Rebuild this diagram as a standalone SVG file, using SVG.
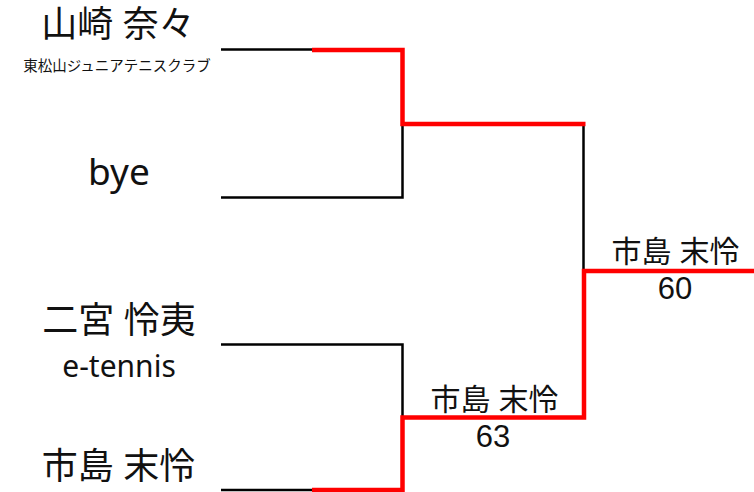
<svg xmlns="http://www.w3.org/2000/svg" width="754" height="492" viewBox="0 0 754 492">
<style>
text{font-family:"Noto Sans","Noto Sans CJK JP",sans-serif;fill:#111;text-anchor:middle}
.big{font-size:36px}
.club{font-size:14.5px}
.lbl{font-size:30px}
.num{font-family:"Liberation Sans",sans-serif;font-size:31px}
.blk{fill:none;stroke:#000;stroke-width:2.5}
.red{fill:none;stroke:#ff0000;stroke-width:4.5}
</style>
<rect width="754" height="492" fill="#fff"/>
<g id="connectors">
<path class="blk" d="M221 49.5H314"/>
<path class="blk" d="M221 197.5H402.5V124"/>
<path class="blk" d="M221 344.5H402.5V417"/>
<path class="blk" d="M221 490H314"/>
<path class="blk" d="M583.5 124V271"/>
<path class="red" d="M312 50H402.5V124H585.5"/>
<path class="red" d="M312 490H402.5V417.5H584V271H754"/>
</g>
<g id="p1"><text class="big" x="118" y="37">山崎 奈々</text><text class="club" x="117" y="71">東松山ジュニアテニスクラブ</text></g>
<g id="p2"><text x="119" y="185" style="font-size:37px">bye</text></g>
<g id="p3"><text class="big" x="119" y="333">二宮 怜夷</text><text x="119" y="377" style="font-size:30px">e-tennis</text></g>
<g id="p4"><text class="big" x="118.5" y="479">市島 末怜</text></g>
<g id="m1"><text class="lbl" x="494.5" y="410">市島 末怜</text><text class="num" x="493" y="447">63</text></g>
<g id="m2"><text class="lbl" x="675.5" y="262">市島 末怜</text><text class="num" x="675" y="299">60</text></g>
</svg>
